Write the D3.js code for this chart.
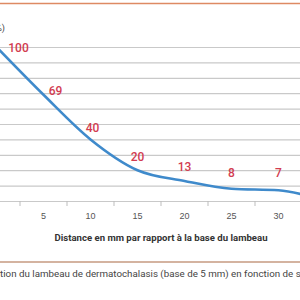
<html>
<head>
  <script src="https://d3js.org/d3.v7.min.js"></script>
  <style>
    body { margin: 0; background: white; }
    svg { display: block; font-family: Roboto, "Open Sans", sans-serif; }
    .grid line { stroke: #c9c9c9; stroke-width: 1.2; }
    .grid path { display: none; }
    .x.axis path { display: none; }
    .x.axis line { stroke: #bdbdbd; }
    .x.axis text { fill: #555; font-size: 9px; }
    .valLabel { fill: #d23c50; font-size: 12px; font-weight: 500; }
    .axisTitle { fill: #333; font-size: 9px; font-weight: bold; }
    .caption { fill: #444; font-size: 9px; }
  </style>
</head>
<body>
  <svg id="chart" width="300" height="300"></svg>
  <script>
    // distance from flap base (mm) and relative value (%)
    const distances = ["0", "5", "10", "15", "20", "25", "30", "35"];
    const values = [100, 69, 40, 20, 13, 8, 7, 0];
    const gridTicks = [0, 10, 20, 30, 40, 50, 60, 70, 80, 90, 100];

    let svg = d3.select("svg#chart");
    let w = +svg.attr("width");

    // the picture is a crop, so the plot runs past the left and right edges
    let step = 47;
    let xScale = d3.scaleBand(distances, [-27, -27 + step * distances.length]);
    let xMid = d => xScale(d) + xScale.bandwidth() / 2;
    let yScale = d3.scaleLinear([0, 100], [201, 47]);

    // top rule
    svg.append("line")
      .attr("x1", 0).attr("x2", w).attr("y1", 3.5).attr("y2", 3.5)
      .attr("stroke", "#de8a63").attr("stroke-width", 1.6);

    // unit label, mostly cut off
    svg.append("text")
      .attr("x", 5).attr("y", 31)
      .attr("text-anchor", "end")
      .style("font-size", "9px").style("fill", "#444")
      .text("(%)");

    // horizontal grid
    let grid = d3.axisLeft(yScale).tickValues(gridTicks).tickFormat("").tickSize(-w - 20);
    svg.append("g")
      .attr("class", "grid")
      .attr("transform", `translate(${-10}, 0)`)
      .call(grid);

    // x axis: ticks sit between the labels
    let xAxis = d3.axisBottom(xScale).tickSize(0).tickPadding(12);
    let xg = svg.append("g")
      .attr("class", "x axis")
      .attr("transform", `translate(0, ${yScale(0)})`)
      .call(xAxis);
    xg.selectAll(".sep").data(distances.slice(1))
      .join("line")
      .attr("class", "sep")
      .attr("x1", d => xScale(d)).attr("x2", d => xScale(d))
      .attr("y1", 0).attr("y2", 5)
      .attr("stroke", "#bdbdbd");

    // line
    let pts = distances.map((d, i) => ({ d: d, v: values[i] }));
    let line = d3.line()
      .x(p => xMid(p.d))
      .y(p => yScale(p.v))
      .curve(d3.curveMonotoneX);
    svg.append("path")
      .datum(pts)
      .attr("d", line)
      .attr("fill", "none")
      .attr("stroke", "#3f8acb")
      .attr("stroke-width", 2.6)
      .attr("stroke-linejoin", "round");

    // value labels (steep start pushes the first two to the right)
    function labelDx(i) { return i === 0 ? 22 : i === 1 ? 12 : i === 2 ? 2 : 0; }
    function labelDy(i) { return i === 0 ? 5 : i === 1 ? 0 : -5 - Math.min(i, 6) * 1.3; }
    svg.selectAll(".valLabel").data(pts.slice(0, 7))
      .join("text")
      .attr("class", "valLabel")
      .attr("text-anchor", "middle")
      .attr("x", (p, i) => xMid(p.d) + labelDx(i))
      .attr("y", (p, i) => yScale(p.v) + labelDy(i))
      .text(p => p.v);

    // axis title
    svg.append("text")
      .attr("class", "axisTitle")
      .attr("x", 161).attr("y", 241)
      .attr("text-anchor", "middle")
      .attr("textLength", 213)
      .attr("lengthAdjust", "spacingAndGlyphs")
      .text("Distance en mm par rapport à la base du lambeau");

    // bottom rule
    svg.append("line")
      .attr("x1", 0).attr("x2", w).attr("y1", 262).attr("y2", 262)
      .attr("stroke", "#c69a80").attr("stroke-width", 1.6);

    // caption, cut on both sides
    svg.append("text")
      .attr("class", "caption")
      .attr("x", 0).attr("y", 277)
      .attr("text-anchor", "end")
      .text("Évolu");
    svg.append("text")
      .attr("class", "caption")
      .attr("x", 0).attr("y", 277)
      .attr("textLength", 306)
      .attr("lengthAdjust", "spacingAndGlyphs")
      .text("tion du lambeau de dermatochalasis (base de 5 mm) en fonction de sa");
  </script>
</body>
</html>
